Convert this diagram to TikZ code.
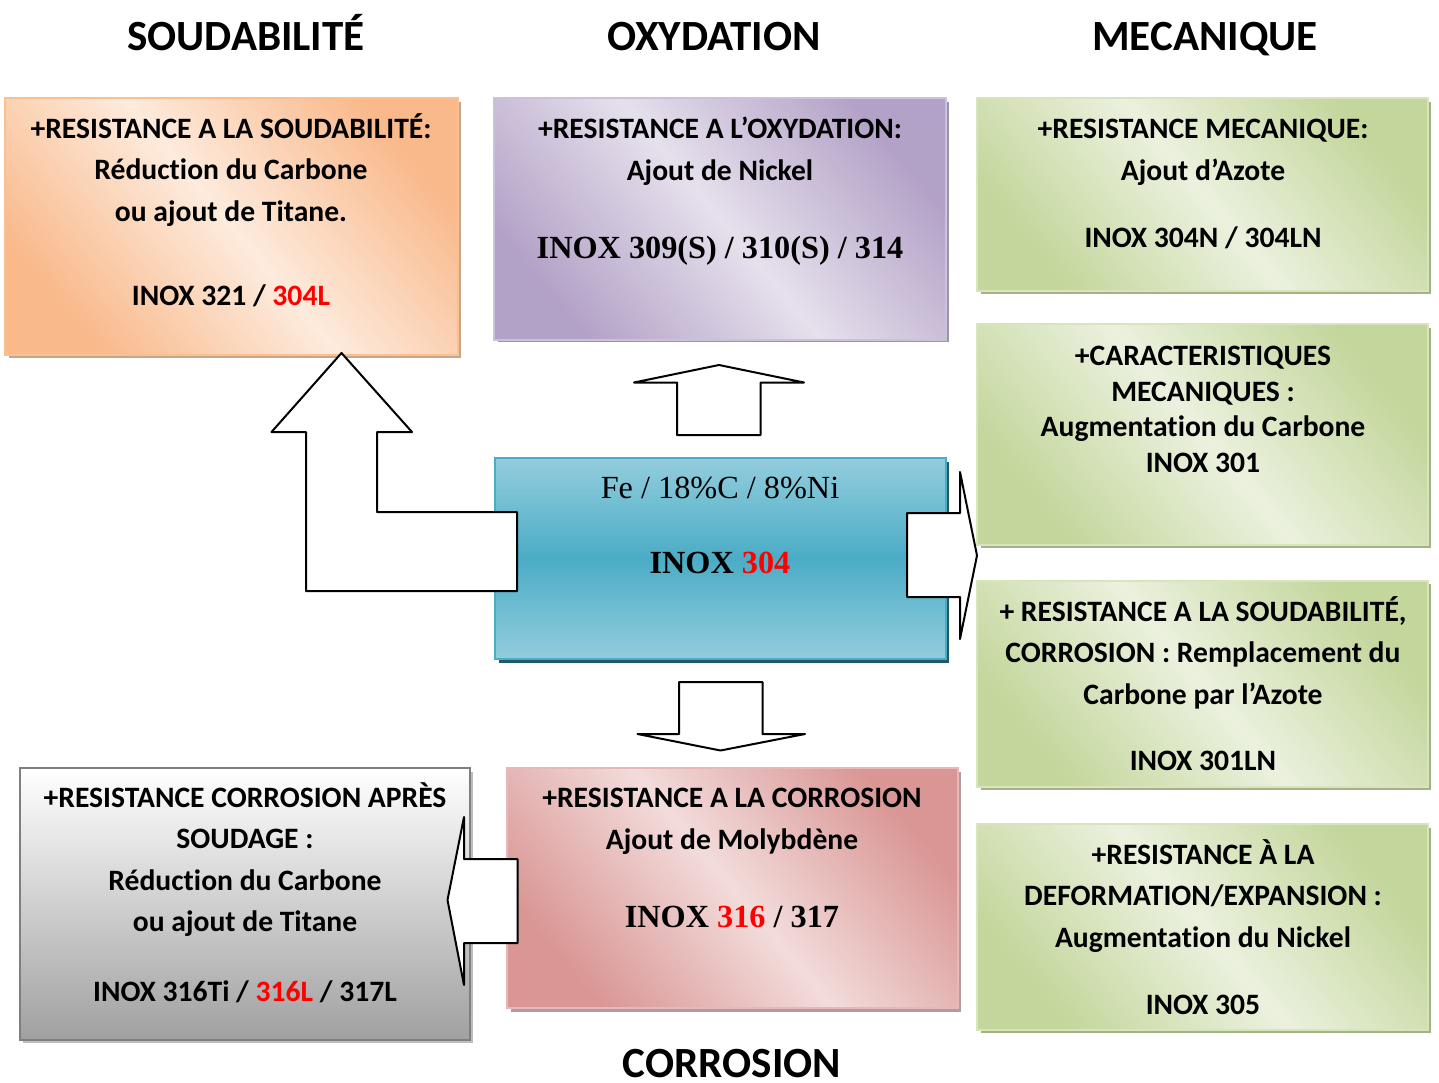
\documentclass[tikz,border=0pt]{standalone}
\usepackage{fontspec}
\setmainfont{Carlito}[Ligatures={NoCommon}]
\newfontfamily\tms{Liberation Serif}
\usetikzlibrary{fit}
\definecolor{orD}{HTML}{F9B98B}
\definecolor{orL}{HTML}{FDEBDD}
\definecolor{orB}{HTML}{FAC090}
\definecolor{orS}{HTML}{C4A68C}
\definecolor{puD}{HTML}{B3A2C7}
\definecolor{puL}{HTML}{E6E0EC}
\definecolor{puB}{HTML}{CCC1DA}
\definecolor{puS}{HTML}{9D93AA}
\definecolor{grD}{HTML}{C3D69B}
\definecolor{grL}{HTML}{EBF1DE}
\definecolor{grB}{HTML}{D7E4BD}
\definecolor{grS}{HTML}{A3B386}
\definecolor{pkD}{HTML}{D99694}
\definecolor{pkL}{HTML}{F2DCDB}
\definecolor{pkB}{HTML}{E6B9B8}
\definecolor{pkS}{HTML}{B59C9C}
\definecolor{blD}{HTML}{4BACC6}
\definecolor{blL}{HTML}{93CDDD}
\definecolor{blS}{HTML}{215968}
\definecolor{gyD}{HTML}{A0A0A0}
\definecolor{gyB}{HTML}{7F7F7F}
\definecolor{gyS}{HTML}{BDBDBD}
\definecolor{inred}{HTML}{FF0000}
\newcommand{\rd}[1]{\textcolor{inred}{#1}}
\begin{document}
\begin{tikzpicture}[x=0.75pt,y=-0.75pt,
  diag/.style n args={3}{top color=#1,bottom color=#1,middle color=#2,shading angle=-50,draw=#3,line width=1pt,inner sep=0pt},
  arr/.style={draw=black,fill=white,line width=1.5pt,line join=round},
  tx/.style={font=\fontsize{22.2}{26}\selectfont\bfseries,anchor=base,inner sep=0pt},
  tm/.style={font=\fontsize{24.2}{28}\selectfont\tms\bfseries,anchor=base,inner sep=0pt},
  tmr/.style={font=\fontsize{24.2}{28}\selectfont\tms,anchor=base,inner sep=0pt},
  ttl/.style={font=\fontsize{32.3}{38}\selectfont\bfseries,anchor=base,inner sep=0pt},
]
\useasboundingbox (0,0) rectangle (1439,1082);
\fill[white] (0,0) rectangle (1439,1082);

% titles
\node[ttl] (tS) at (246,50) {SOUDABILITÉ};
\node[ttl] (tO) at (714,50) {OXYDATION};
\node[ttl] (tM) at (1205,50) {MECANIQUE};
\node[ttl] (tC) at (732,1077) {CORROSION};

% shadows
\fill[orS] (9,102) rectangle (461,358);
\fill[puS] (498,102) rectangle (949,342);
\fill[grS] (981,102) rectangle (1431,294);
\fill[grS] (981,328) rectangle (1431,548);
\fill[grS] (981,584) rectangle (1431,790);
\fill[grS] (981,828) rectangle (1431,1033);
\fill[blS] (499,462) rectangle (949,663);
\fill[pkS] (511,772) rectangle (961,1012);
\fill[gyS] (23,772) rectangle (473,1043);

% boxes
\node[fit={(5,98) (458,355)},diag={orD}{orL}{orB}] (bS) {};
\node[fit={(494,98) (946,340)},diag={puD}{puL}{puB}] (bO) {};
\node[fit={(977,98) (1428,291)},diag={grD}{grL}{grB}] (bM1) {};
\node[fit={(977,324) (1428,545)},diag={grD}{grL}{grB}] (bM2) {};
\node[fit={(977,581) (1428,787)},diag={grD}{grL}{grB}] (bM3) {};
\node[fit={(977,824) (1428,1030)},diag={grD}{grL}{grB}] (bM4) {};
\node[fit={(495,458) (946,659)},inner sep=0pt,top color=blL,bottom color=blL,middle color=blD,draw=blD,line width=1.5pt] (bC) {};
\node[fit={(507,768) (958,1008)},diag={pkD}{pkL}{pkB}] (bR) {};
\node[fit={(20,768) (470,1040)},inner sep=0pt,top color=white,bottom color=gyD,draw=gyB,line width=2pt] (bG) {};

% block arrows
\draw[arr] (517,512) -- (377,512) -- (377,432) -- (412,432) -- (341.5,353) -- (271.5,432) -- (306,432) -- (306,591) -- (517,591) -- cycle;
\draw[arr] (677,435) -- (677,382.5) -- (634,382.5) -- (719,365) -- (804,382.5) -- (760.5,382.5) -- (760.5,435) -- cycle;
\draw[arr] (679,682) -- (762.5,682) -- (762.5,734) -- (805,734) -- (720.5,750.5) -- (637.5,734) -- (679,734) -- cycle;
\draw[arr] (907,513) -- (960,513) -- (960,472) -- (977,555.5) -- (960,639) -- (960,597) -- (907,597) -- cycle;
\draw[arr] (517.5,859) -- (464,859) -- (464,817) -- (447.5,900) -- (464,985) -- (464,943) -- (517.5,943) -- cycle;

% soudabilite
\node[tx] (s1) at (231,138) {+RESISTANCE A LA SOUDABILITÉ:};
\node[tx] (s2) at (231,179) {Réduction du Carbone};
\node[tx] (s3) at (231,221) {ou ajout de Titane.};
\node[tx] (s4) at (231,305) {INOX 321 / \rd{304L}};
% oxydation
\node[tx] (o1) at (720,138) {+RESISTANCE A L’OXYDATION:};
\node[tx] (o2) at (720,180) {Ajout de Nickel};
\node[tm] (o3) at (720,258) {INOX 309(S) / 310(S) / 314};
% mecanique
\node[tx] (m1) at (1203,138) {+RESISTANCE MECANIQUE:};
\node[tx] (m2) at (1203,180) {Ajout d’Azote};
\node[tx] (m3) at (1203,247) {INOX 304N / 304LN};
\node[tx] (c1) at (1203,365) {+CARACTERISTIQUES};
\node[tx] (c2) at (1203,401) {MECANIQUES :};
\node[tx] (c3) at (1203,436) {Augmentation du Carbone};
\node[tx] (c4) at (1203,472) {INOX 301};
\node[tx] (w1) at (1203,621) {+ RESISTANCE A LA SOUDABILITÉ,};
\node[tx] (w2) at (1203,662) {CORROSION : Remplacement du};
\node[tx] (w3) at (1203,704) {Carbone par l’Azote};
\node[tx] (w4) at (1203,770) {INOX 301LN};
\node[tx] (d1) at (1203,864) {+RESISTANCE À LA};
\node[tx] (d2) at (1203,905) {DEFORMATION/EXPANSION :};
\node[tx] (d3) at (1203,947) {Augmentation du Nickel};
\node[tx] (d4) at (1203,1014) {INOX 305};
% centre
\node[tmr] (b1) at (720,498) {Fe / 18\%C / 8\%Ni};
\node[tm] (b2) at (720,573) {INOX \rd{304}};
% corrosion
\node[tx] (r1) at (732,807) {+RESISTANCE A LA CORROSION};
\node[tx] (r2) at (732,849) {Ajout de Molybdène};
\node[tm] (r3) at (732,927) {INOX \rd{316} / 317};
% apres soudage
\node[tx] (g1) at (245,807) {+RESISTANCE CORROSION APRÈS};
\node[tx] (g2) at (245,848) {SOUDAGE :};
\node[tx] (g3) at (245,890) {Réduction du Carbone};
\node[tx] (g4) at (245,931) {ou ajout de Titane};
\node[tx] (g5) at (245,1001) {INOX 316Ti / \rd{316L} / 317L};
\end{tikzpicture}
\end{document}
